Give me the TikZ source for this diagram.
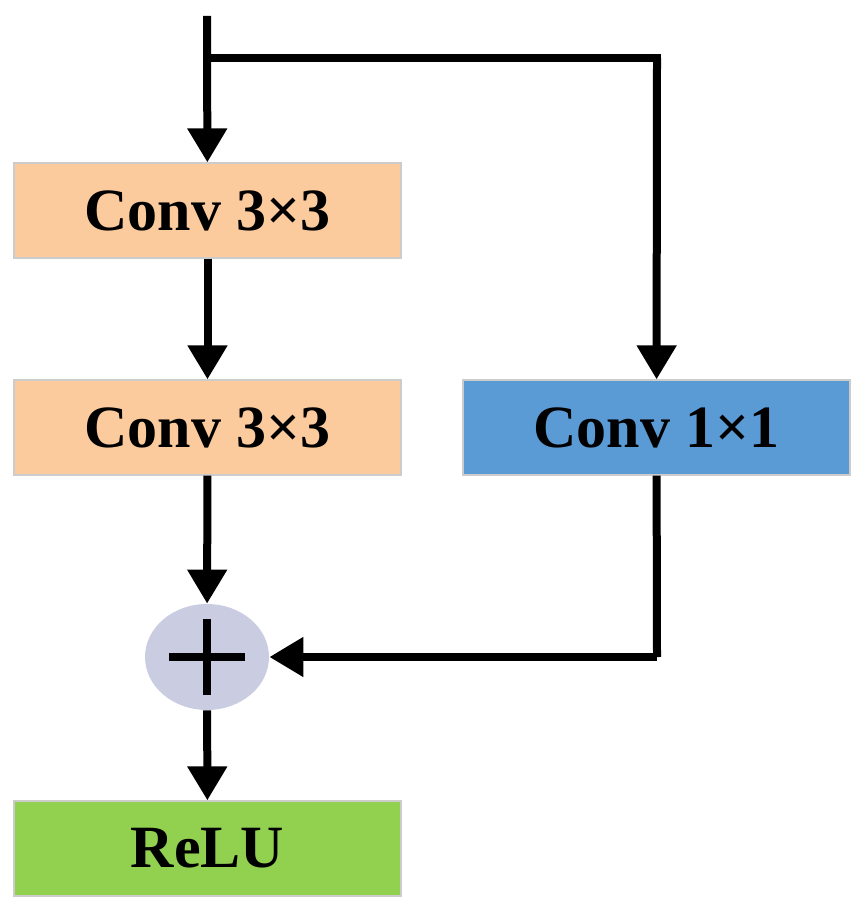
\documentclass[tikz,border=0pt]{standalone}
\usepackage{fontspec}
\setmainfont{Liberation Serif}
\usetikzlibrary{arrows.meta,shapes.geometric}
\definecolor{peach}{HTML}{FBCB9E}
\definecolor{convblue}{HTML}{5B9BD5}
\definecolor{relugreen}{HTML}{92D050}
\definecolor{sumgray}{HTML}{CACCE2}
\begin{document}
\begin{tikzpicture}[x=0.5pt, y=-0.5pt]
    \tikzset{
        block/.style = {rectangle, minimum width=193.5pt, minimum height=47.5pt, draw=black!20, line width=0.6pt,
                        font=\fontsize{30}{30}\selectfont\bfseries, inner sep=0pt},
        sum/.style = {ellipse, fill=sumgray, minimum width=62pt, minimum height=53pt, inner sep=0pt},
        arrow/.style = {line width=4pt, -{Triangle[length=17pt, width=19pt]}},
        wire/.style = {line width=4pt},
    }
    \useasboundingbox (0,0) rectangle (864,913);
    \coordinate (in) at (207,16);
    \coordinate (branch) at (207,58);
    \coordinate (corner) at (657,58);
    \node (conv1) [block, fill=peach] at (207.5,210.5) {Conv 3×3};
    \node (conv2) [block, fill=peach] at (207.5,427.5) {Conv 3×3};
    \node (conv3) [block, fill=convblue] at (656.5,427.5) {Conv 1×1};
    \node (add) [sum] at (207,657) {};
    \node (relu) [block, fill=relugreen] at (207.5,848.5) {ReLU};
    \coordinate (turn) at (657,657);

    % plus sign
    \draw [wire] ([xshift=-19pt]add.center) -- ([xshift=19pt]add.center);
    \draw [wire] ([yshift=-19pt]add.center) -- ([yshift=19pt]add.center);

    \draw [arrow] (in) -- (conv1);
    \draw [wire, line cap=rect] (branch) -- (corner);
    \draw [arrow] (corner) -- (conv3);
    \draw [arrow] (conv1) -- (conv2);
    \draw [arrow] (conv2) -- (add);
    \draw [wire] (conv3) -- (turn);
    \draw [arrow] ([yshift=0pt]turn) -- (add);
    \draw [arrow] (add) -- (relu);
\end{tikzpicture}
\end{document}
